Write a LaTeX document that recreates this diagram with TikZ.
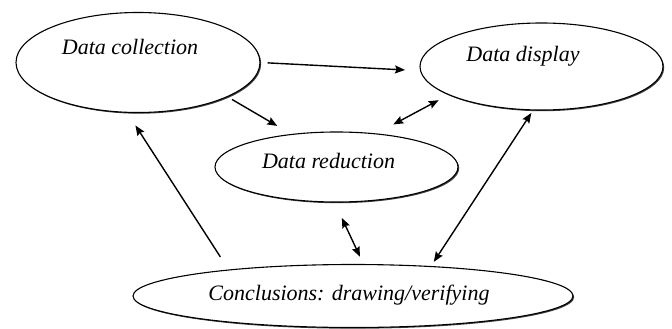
\documentclass[tikz,border=0pt]{standalone}
\usepackage{fontspec}
\setmainfont{Liberation Serif}
\usetikzlibrary{arrows.meta,shapes.geometric,shadows}

\begin{document}
\begin{tikzpicture}[x=1pt,y=1pt,
  oval/.style={ellipse,draw,line width=1.1pt,fill=white,inner sep=0pt,
    drop shadow={shadow xshift=1.2pt,shadow yshift=-1.2pt,opacity=1,fill=black!75}},
  stagetext/.style={anchor=base,inner sep=0pt,font=\fontsize{22}{26}\selectfont\itshape},
  flow/.style={-{Stealth[length=10pt,width=8pt,inset=1.5pt]},line width=1.4pt},
  twoway/.style={{Stealth[length=10pt,width=8pt,inset=1.5pt]}-{Stealth[length=10pt,width=8pt,inset=1.5pt]},line width=1.4pt}]
\useasboundingbox (0,0) rectangle (672,-329);

\node[oval,minimum width=244pt,minimum height=100pt] (coll) at (138,-62.5) {};
\node[oval,minimum width=243pt,minimum height=87pt] (disp) at (541.5,-66.5) {};
\node[oval,minimum width=243pt,minimum height=70pt] (red) at (336.5,-167) {};
\node[oval,minimum width=440pt,minimum height=63pt] (conc) at (353,-296) {};

\node[stagetext] (collt) at (130,-55) {Data collection};
\node[stagetext] (dispt) at (523,-62) {Data display};
\node[stagetext] (redt) at (328.5,-168) {Data reduction};
\node[stagetext] (conct) at (349,-300) {Conclusions: drawing/verifying};

%one way
\draw[flow,shorten <=7pt,shorten >=15pt] (coll.0) -- (disp.182);
\draw[flow,shorten <=5pt,shorten >=16pt] (coll.-21) -- (red.144);
\draw[flow,shorten <=15pt,shorten >=15pt] (conc.168) -- (coll.258);

%both ways
\draw[twoway,shorten <=19pt,shorten >=11pt] (red.40) -- (disp.197);
\draw[twoway,shorten <=17pt,shorten >=8pt] (red.267) -- (conc.72);
\draw[twoway,shorten <=3pt,shorten >=5pt] (disp.259) -- (conc.21);
\end{tikzpicture}
\end{document}
